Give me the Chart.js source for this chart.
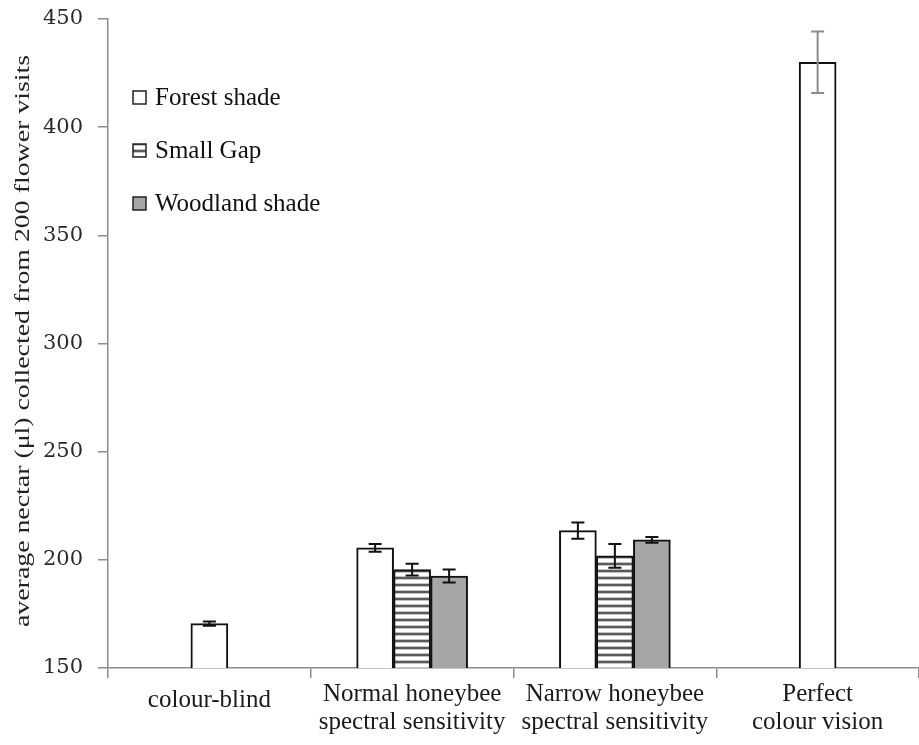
<!DOCTYPE html>
<html>
<head>
<meta charset="utf-8">
<script src="https://cdn.jsdelivr.net/npm/chart.js@4/dist/chart.umd.min.js"></script>
<style>
  html, body { margin: 0; padding: 0; background: #fff; }
  #wrap { width: 919px; height: 745px; }
</style>
</head>
<body>
<div id="wrap"><canvas id="c" width="919" height="745"></canvas></div>
<script>
// Vision conditions on the x axis
const categories = [
  'colour-blind',
  ['Normal honeybee', 'spectral sensitivity'],
  ['Narrow honeybee', 'spectral sensitivity'],
  ['Perfect', 'colour vision']
];

// Mean nectar collected (µl) per light environment
const forestShade   = [170.5, 205.5, 213.5, 430];
const smallGap      = [null, 195.5, 201.8, null];
const woodlandShade = [null, 192.5, 209.2, null];

// Standard errors
const forestShadeErr   = [1.0, 1.8, 3.8, 14.2];
const smallGapErr      = [null, 2.7, 5.5, null];
const woodlandShadeErr = [null, 3.0, 1.3, null];

// Y axis tick range
const yMin = 150;
const yMax = 450;
const yStep = 50;

const yTitle = 'average nectar (\u03bcl) collected from 200 flower visits';

const SERIF = '"Liberation Serif", "Times New Roman", serif';
const TICK_SERIF = '"DejaVu Serif", serif';

function stripePattern() {
  const c = document.createElement('canvas');
  c.width = 8; c.height = 7;
  const g = c.getContext('2d');
  g.fillStyle = '#ffffff'; g.fillRect(0, 0, 8, 7);
  g.fillStyle = '#c4c4c4'; g.fillRect(0, 2, 8, 1); g.fillRect(0, 5, 8, 1);
  g.fillStyle = '#5a5a5a'; g.fillRect(0, 3, 8, 2);
  return g.createPattern(c, 'repeat');
}

const ctx = document.getElementById('c').getContext('2d');
const stripes = stripePattern();

// Error bars drawn on top of each bar from its value and error
const errorBars = {
  id: 'errorBars',
  afterDatasetsDraw(chart, args, opts) {
    const g = chart.ctx;
    const y = chart.scales.y;
    chart.data.datasets.forEach((ds, di) => {
      const meta = chart.getDatasetMeta(di);
      if (!meta.visible) return;
      meta.data.forEach((bar, i) => {
        const v = ds.data[i];
        const e = ds.errors ? ds.errors[i] : null;
        if (v == null || e == null) return;
        const top = y.getPixelForValue(v + e);
        const bot = y.getPixelForValue(v - e);
        const x = bar.x;
        const half = opts.capWidth / 2;
        g.save();
        g.strokeStyle = (opts.colors && opts.colors[i]) || '#111';
        g.lineWidth = opts.lineWidth;
        g.beginPath();
        g.moveTo(x, top); g.lineTo(x, bot);
        g.moveTo(x - half, top); g.lineTo(x + half, top);
        g.moveTo(x - half, bot); g.lineTo(x + half, bot);
        g.stroke();
        g.restore();
      });
    });
  }
};

// Legend inside the plot area, one entry per line
const insideLegend = {
  id: 'insideLegend',
  afterDraw(chart, args, opts) {
    const g = chart.ctx;
    g.save();
    g.font = opts.font;
    g.textBaseline = 'alphabetic';
    g.textAlign = 'left';
    chart.data.datasets.forEach((ds, i) => {
      const base = opts.y + i * opts.spacing;
      const bx = opts.x, by = base - opts.box - 1;
      g.fillStyle = ds.backgroundColor;
      g.fillRect(bx, by, opts.box, opts.box);
      g.strokeStyle = '#222';
      g.lineWidth = 1.5;
      g.strokeRect(bx, by, opts.box, opts.box);
      g.fillStyle = '#111';
      g.fillText(ds.label, bx + opts.box + 9, base);
    });
    g.restore();
  }
};

// Rotated y axis title
const yAxisTitle = {
  id: 'yAxisTitle',
  afterDraw(chart, args, opts) {
    const g = chart.ctx;
    g.save();
    g.translate(opts.x, opts.y);
    g.rotate(-Math.PI / 2);
    g.font = opts.font;
    const w = g.measureText(opts.text).width;
    g.scale(opts.length / w, 1);
    g.textAlign = 'center';
    g.textBaseline = 'middle';
    g.fillStyle = '#222';
    g.fillText(opts.text, 0, 0);
    g.restore();
  }
};

new Chart(ctx, {
  type: 'bar',
  data: {
    labels: categories,
    datasets: [
      { label: 'Forest shade', data: forestShade, errors: forestShadeErr,
        backgroundColor: '#ffffff', borderColor: '#111', borderWidth: 2 },
      { label: 'Small Gap', data: smallGap, errors: smallGapErr,
        backgroundColor: stripes, borderColor: '#111', borderWidth: 2 },
      { label: 'Woodland shade', data: woodlandShade, errors: woodlandShadeErr,
        backgroundColor: '#a6a6a6', borderColor: '#111', borderWidth: 2 }
    ]
  },
  options: {
    responsive: false,
    animation: false,
    skipNull: true,
    barThickness: 37,
    layout: { padding: { left: 0, right: 0, top: 19, bottom: 0 } },
    plugins: {
      legend: { display: false },
      tooltip: { enabled: false },
      errorBars: { capWidth: 13, lineWidth: 2, colors: ['#111', '#111', '#111', '#8c8c8c'] },
      insideLegend: { x: 133, y: 105, spacing: 53, box: 13, font: '25px ' + SERIF },
      yAxisTitle: { x: 23.5, y: 341, length: 572, text: yTitle, font: '20px ' + SERIF }
    },
    scales: {
      x: {
        offset: true,
        grid: {
          offset: true, drawOnChartArea: false, drawTicks: true,
          tickLength: 10, color: '#8c8c8c', lineWidth: 1.5
        },
        border: { display: true, color: '#8c8c8c', width: 1.5 },
        ticks: {
          color: '#1a1a1a',
          padding: 3,
          maxRotation: 0,
          autoSkip: false,
          font: (c) => ({ family: SERIF, size: 25, lineHeight: c.index === 0 ? 1.56 : 1.1 })
        },
        afterFit(scale) { scale.height = 77; }
      },
      y: {
        min: yMin,
        max: yMax,
        grid: {
          drawOnChartArea: false, drawTicks: true,
          tickLength: 10, color: '#8c8c8c', lineWidth: 1.5
        },
        border: { display: true, color: '#8c8c8c', width: 1.5 },
        ticks: {
          stepSize: yStep,
          color: '#2a2a2a',
          padding: 15,
          font: { family: TICK_SERIF, size: 21, lineHeight: 1 }
        },
        afterFit(scale) {
          scale.width = 108;
          scale.paddingTop = 0;
          scale.paddingBottom = 0;
        }
      }
    }
  },
  plugins: [errorBars, insideLegend, yAxisTitle]
});
</script>
</body>
</html>
